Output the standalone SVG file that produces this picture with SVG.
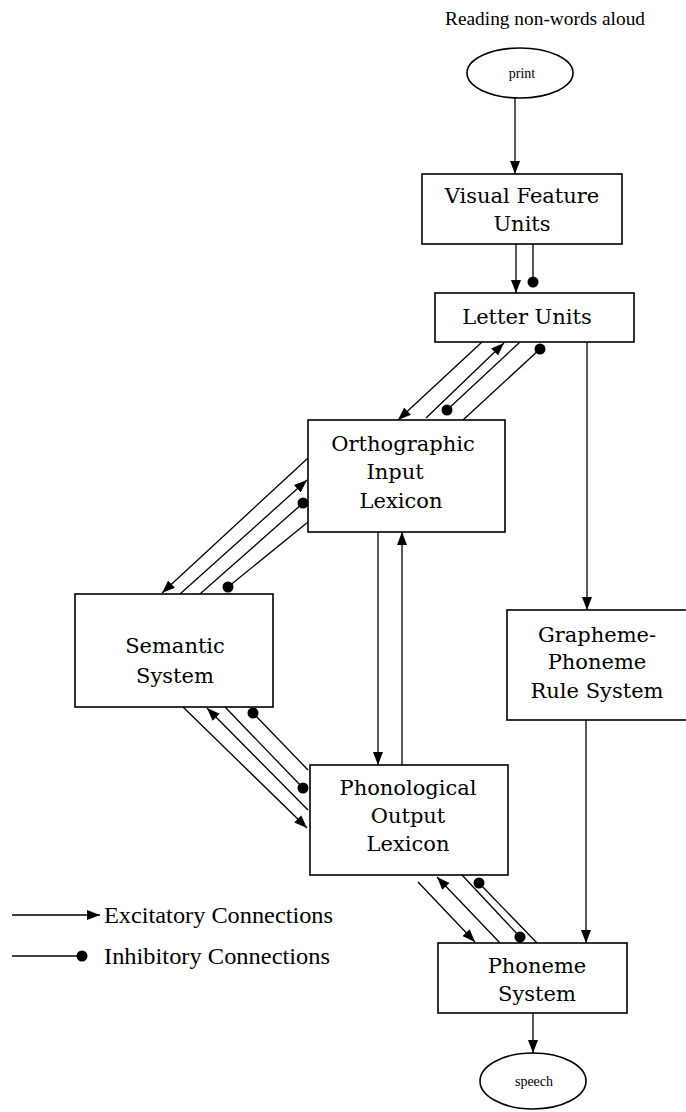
<svg xmlns="http://www.w3.org/2000/svg" width="686" height="1112" viewBox="0 0 686 1112">
<style>
.box{fill:#fff;stroke:#000;stroke-width:1.6}
.ell{fill:#fff;stroke:#000;stroke-width:1.6}
.lbl{font-family:"DejaVu Serif","Liberation Serif",serif;font-size:21px;fill:#000;text-anchor:middle}
.sm{font-family:"Liberation Serif",serif;font-size:14px;fill:#000;text-anchor:middle}
.leg{font-family:"Liberation Serif",serif;font-size:23px;fill:#000}
.ex{fill:none;stroke:#000;stroke-width:1.3;marker-end:url(#arr)}
.in{fill:none;stroke:#000;stroke-width:1.3;marker-end:url(#dot)}
</style>
<defs>
<marker id="arr" markerUnits="userSpaceOnUse" markerWidth="14" markerHeight="12" refX="13" refY="6" orient="auto" viewBox="0 0 14 12">
<path d="M0,1 L13,6 L0,11 z" fill="#000"/>
</marker>
<marker id="dot" markerUnits="userSpaceOnUse" markerWidth="12" markerHeight="12" refX="6" refY="6" viewBox="0 0 12 12">
<circle cx="6" cy="6" r="5.5" fill="#000"/>
</marker>
</defs>
<rect width="686" height="1112" fill="#fff"/>
<text x="545" y="25" font-family="Liberation Serif, serif" font-size="19" text-anchor="middle" textLength="200" lengthAdjust="spacingAndGlyphs">Reading non-words aloud</text>
<g id="connectors">
<path class="ex" d="M515,98 L515,174"/>
<path class="ex" d="M516,244 L516,293"/>
<path class="in" d="M533,244 L533,282"/>
<path class="ex" d="M587,342 L587,610"/>
<path class="ex" d="M586,720 L586,943"/>
<path class="ex" d="M378,532 L378,765"/>
<path class="ex" d="M402,765 L402,532"/>
<path class="ex" d="M533,1013 L533,1053"/>
<path class="ex" d="M482,342 L398,420"/>
<path class="ex" d="M426,418 L504,343"/>
<path class="in" d="M520,342 L447,410"/>
<path class="in" d="M463,420 L540,349"/>
<path class="ex" d="M308,458 L162,593"/>
<path class="ex" d="M180,594 L307,480"/>
<path class="in" d="M200,594 L303,503"/>
<path class="in" d="M308,522 L228,587"/>
<path class="ex" d="M183,707 L307,828"/>
<path class="ex" d="M308,810 L207,708"/>
<path class="in" d="M225,707 L303,788"/>
<path class="in" d="M308,770 L253,713"/>
<path class="ex" d="M418,882 L475,942"/>
<path class="ex" d="M500,943 L437,877"/>
<path class="in" d="M462,875 L520,937"/>
<path class="in" d="M537,943 L479,883"/>
</g>
<g id="print">
<ellipse class="ell" cx="520" cy="73" rx="53" ry="25"/>
<text class="sm" x="522" y="78">print</text>
</g>
<g id="visual">
<rect class="box" x="422" y="174" width="200" height="70"/>
<text class="lbl" x="522" y="203">Visual Feature</text>
<text class="lbl" x="522" y="231">Units</text>
</g>
<g id="letter">
<rect class="box" x="435" y="293" width="199" height="49"/>
<text class="lbl" x="527" y="324">Letter Units</text>
</g>
<g id="ortho">
<rect class="box" x="308" y="420" width="197" height="112"/>
<text class="lbl" x="403" y="451">Orthographic</text>
<text class="lbl" x="395" y="479">Input</text>
<text class="lbl" x="401" y="508">Lexicon</text>
</g>
<g id="semantic">
<rect class="box" x="75" y="594" width="198" height="113"/>
<text class="lbl" x="175" y="653">Semantic</text>
<text class="lbl" x="175" y="683">System</text>
</g>
<g id="grapheme">
<rect class="box" x="507" y="610" width="180" height="110"/>
<text class="lbl" x="597" y="642">Grapheme-</text>
<text class="lbl" x="597" y="669">Phoneme</text>
<text class="lbl" x="597" y="698">Rule System</text>
</g>
<g id="phono">
<rect class="box" x="310" y="765" width="198" height="110"/>
<text class="lbl" x="408" y="795">Phonological</text>
<text class="lbl" x="408" y="823">Output</text>
<text class="lbl" x="408" y="851">Lexicon</text>
</g>
<g id="phoneme">
<rect class="box" x="438" y="943" width="189" height="70"/>
<text class="lbl" x="537" y="973">Phoneme</text>
<text class="lbl" x="537" y="1001">System</text>
</g>
<g id="speech">
<ellipse class="ell" cx="533" cy="1081" rx="53" ry="28"/>
<text class="sm" x="534" y="1086">speech</text>
</g>
<g id="legend">
<path class="ex" d="M12,915 L100,915"/>
<path class="in" d="M12,956 L82,956"/>
<text class="leg" x="104" y="923" textLength="229" lengthAdjust="spacingAndGlyphs">Excitatory Connections</text>
<text class="leg" x="104" y="964" textLength="226" lengthAdjust="spacingAndGlyphs">Inhibitory Connections</text>
</g>
</svg>
